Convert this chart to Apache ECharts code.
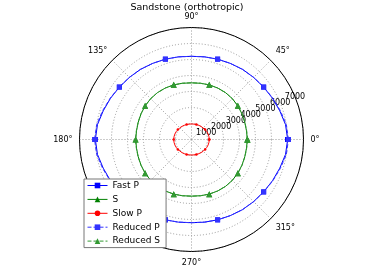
<!DOCTYPE html>
<html><head><meta charset="utf-8">
<script src="https://cdn.jsdelivr.net/npm/echarts@6/dist/echarts.min.js"></script>
<style>html,body{margin:0;padding:0;background:#fff}#c{width:374px;height:280px}</style>
</head><body><div id="c"></div>
<script>
// angles (degrees), every 9 degrees
const angles = [0,9,18,27,36,45,54,63,72,81,90,99,108,117,126,135,144,153,162,171,180,189,198,207,216,225,234,243,252,261,270,279,288,297,306,315,324,333,342,351,360];
const fastP = [6010,5950,5800,5680,5570,5490,5420,5340,5280,5230,5200,5230,5280,5340,5420,5490,5570,5680,5800,5950,6010,5950,5800,5680,5570,5490,5420,5340,5280,5230,5200,5230,5280,5340,5420,5490,5570,5680,5800,5950,6010];
const sWave = [3490,3480,3500,3540,3580,3610,3620,3610,3590,3560,3540,3560,3590,3610,3620,3610,3580,3540,3500,3480,3490,3480,3500,3540,3580,3610,3620,3610,3590,3560,3540,3560,3590,3610,3620,3610,3580,3540,3500,3480,3490];
const slowP = [1110,1106,1095,1077,1055,1035,1013,995,982,973,970,973,982,995,1013,1035,1055,1077,1095,1106,1110,1106,1095,1077,1055,1035,1013,995,982,973,970,973,982,995,1013,1035,1055,1077,1095,1106,1110];
const reducedP = [6060,6000,5840,5700,5580,5490,5420,5340,5280,5230,5200,5230,5280,5340,5420,5490,5580,5700,5840,6000,6060,6000,5840,5700,5580,5490,5420,5340,5280,5230,5200,5230,5280,5340,5420,5490,5580,5700,5840,6000,6060];
const reducedS = [3500,3490,3510,3545,3585,3610,3620,3610,3590,3560,3545,3560,3590,3610,3620,3610,3585,3545,3510,3490,3500,3490,3510,3545,3585,3610,3620,3610,3590,3560,3545,3560,3590,3610,3620,3610,3585,3545,3510,3490,3500];
const seriesNames = ['Fast P','S','Slow P','Reduced P','Reduced S'];
const title = 'Sandstone (orthotropic)';
const rMax = 7000;
const rStep = 1000;

const FONT = 'DejaVu Sans';
const center = [191.5, 139.5];
const radius = 112;

function build(vals, sym) {
  return vals.map((v, i) => ({ value: [v, angles[i]], symbol: (i % 4 === 0) ? sym : 'none' }));
}
function mkSeries(name, vals, color, sym, size, dashed) {
  return {
    name: name, type: 'line', coordinateSystem: 'polar', polarIndex: 0,
    data: build(vals, sym), symbol: sym, symbolSize: size, showSymbol: true,
    lineStyle: { color: color, width: 1, type: dashed ? [4, 2] : 'solid' },
    itemStyle: { color: color }, emphasis: { disabled: true }, z: 2
  };
}
const rLabel = { margin: 0, align: 'center', verticalAlign: 'middle', fontFamily: FONT, fontSize: 8, color: '#000' };

const chart = echarts.init(document.getElementById('c'), null, { renderer: 'canvas' });
chart.setOption({
  animation: false,
  backgroundColor: '#fff',
  title: { text: title, left: 'center', top: 3, padding: 0, textStyle: { fontFamily: FONT, fontSize: 9.5, fontWeight: 'normal', color: '#000' } },
  polar: [
    { center: center, radius: radius },
    { center: center, radius: radius },
    { center: center, radius: radius }
  ],
  angleAxis: [
    { polarIndex: 0, type: 'value', min: 0, max: 360, interval: 45, startAngle: 0, clockwise: false,
      axisLine: { lineStyle: { color: '#000', width: 1 } }, axisTick: { show: false },
      axisLabel: { fontFamily: FONT, fontSize: 8, color: '#000', margin: 7, formatter: v => v === 360 ? '' : v + '°' },
      splitLine: { show: true, lineStyle: { type: [1, 2], color: '#999', width: 1 } } },
    { polarIndex: 1, type: 'value', min: 0, max: 360, startAngle: 22.5, clockwise: false, show: false },
    { polarIndex: 2, type: 'value', min: 0, max: 360, startAngle: 22.5, clockwise: false, show: false }
  ],
  radiusAxis: [
    { polarIndex: 0, type: 'value', min: 0, max: rMax, interval: rStep,
      axisLine: { show: false }, axisTick: { show: false }, axisLabel: { show: false },
      splitLine: { show: true, lineStyle: { type: [1, 2], color: '#999', width: 1 } } },
    { polarIndex: 1, type: 'value', min: 0, max: rMax, interval: rStep,
      axisLine: { show: false }, axisTick: { show: false }, splitLine: { show: false },
      axisLabel: Object.assign({ showMaxLabel: false, showMinLabel: false, formatter: v => (v === 0 || v === rMax) ? '' : String(v) }, rLabel) },
    { polarIndex: 2, type: 'value', min: 0, max: rMax, interval: rMax,
      axisLine: { show: false }, axisTick: { show: false }, splitLine: { show: false },
      axisLabel: Object.assign({ showMaxLabel: true, formatter: v => v === rMax ? String(v) : '' }, rLabel) }
  ],
  legend: {
    orient: 'vertical', left: 84, top: 179, data: seriesNames,
    backgroundColor: '#fff', borderColor: '#777', borderWidth: 1, borderRadius: 0,
    padding: [2, 6, 2, 3], itemWidth: 20, itemHeight: 7, itemGap: 4.9,
    lineStyle: { width: 1 },
    textStyle: { fontFamily: FONT, fontSize: 9, color: '#000' }
  },
  series: [
    mkSeries(seriesNames[0], fastP, '#0000ff', 'rect', 5, false),
    mkSeries(seriesNames[1], sWave, '#008000', 'triangle', 6, false),
    mkSeries(seriesNames[2], slowP, '#ff0000', 'circle', 2.5, false),
    mkSeries(seriesNames[3], reducedP, '#3333ff', 'rect', 5, true),
    mkSeries(seriesNames[4], reducedS, '#339933', 'triangle', 6, true)
  ]
});
</script></body></html>
